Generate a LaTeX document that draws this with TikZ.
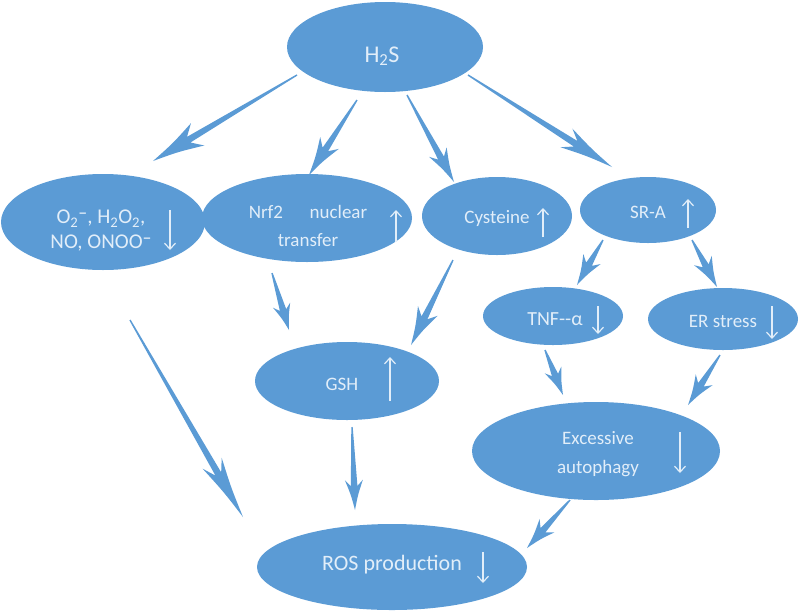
\documentclass[tikz,border=0pt]{standalone}
\usepackage{fontspec}
\setmainfont{Carlito}
\usetikzlibrary{shapes.geometric,calc,arrows.meta}
\definecolor{blu}{HTML}{5B9BD5}
\definecolor{txt}{HTML}{E2EEF9}
\newcommand\tarr[4]{%
 \fill[blu] let \p1=(#1), \p2=(#2), \n1={atan2(\y2-\y1,\x2-\x1)} in
  ($(\p1)+(\n1+90:0.7pt)$) --
  ($(\p2)+(\n1+180:0.8*#3)+(\n1+90:3.3pt)$) --
  ($(\p2)+(\n1+180:#3)+(\n1+90:#4)$) ..
   controls ($(\p2)+(\n1+180:0.5*#3)+(\n1+90:0.38*#4)$) ..
  (\p2) ..
   controls ($(\p2)+(\n1+180:0.5*#3)+(\n1-90:0.38*#4)$) ..
  ($(\p2)+(\n1+180:#3)+(\n1-90:#4)$) --
  ($(\p2)+(\n1+180:0.8*#3)+(\n1-90:3.3pt)$) --
  ($(\p1)+(\n1-90:0.7pt)$) -- cycle;}
\newcommand\minu{\raisebox{0.42ex}{\scalebox{0.85}[1]{–}}}
\tikzset{
 ell/.style={ellipse, fill=blu, draw=none, inner sep=0pt},
 lab/.style={text=txt, align=center, inner sep=0pt},
 fs/.style args={#1/#2}{font=\fontsize{#1}{#2}\selectfont},
 updn/.style={draw=txt, line width=1.2pt, -{Straight Barb[length=6pt,width=11pt]}}
}
\begin{document}
\begin{tikzpicture}[x=1pt,y=-1pt]
\useasboundingbox (0,0) rectangle (800,614);
% ellipses
\node[ell, minimum width=196pt, minimum height=90pt] (h2s) at (385,47) {};
\node[ell, minimum width=204pt, minimum height=96pt] (o2) at (103,222) {};
\node[ell, minimum width=210pt, minimum height=88pt] (nrf) at (307,218) {};
\node[ell, minimum width=150pt, minimum height=78pt] (cys) at (497,216) {};
\node[ell, minimum width=136pt, minimum height=66pt] (sra) at (648,210) {};
\node[ell, minimum width=140pt, minimum height=58pt] (tnf) at (553,316) {};
\node[ell, minimum width=150pt, minimum height=62pt] (er) at (723,319) {};
\node[ell, minimum width=184pt, minimum height=78pt] (gsh) at (347,381) {};
\node[ell, minimum width=248pt, minimum height=98pt] (exc) at (596,451) {};
\node[ell, minimum width=270pt, minimum height=86pt] (ros) at (392,567) {};
% labels
\node[lab, fs=24/28, anchor=base] (h2sT) at (382,62) {H\textsubscript{2}S};
\node[lab, fs=21/25] (o2T) at (101,231) {O\textsubscript{2}\minu, H\textsubscript{2}O\textsubscript{2},\\NO, ONOO\minu};
\node[lab, fs=19/28] (nrfT) at (308,226) {Nrf2\hspace{1.4em}nuclear\\transfer};
\node[lab, fs=19/23, anchor=base] (cysT) at (497,223) {Cysteine};
\node[lab, fs=19/23, anchor=base] (sraT) at (648,218) {SR-A};
\node[lab, fs=20/24, anchor=base] (tnfT) at (555,325) {TNF-{}-α};
\node[lab, fs=19/23, anchor=base] (erT) at (723,327) {ER stress};
\node[lab, fs=19/23, anchor=base] (gshT) at (342,390) {GSH};
\node[lab, fs=19/29] (excT) at (598,454) {Excessive\\autophagy};
\node[lab, fs=22/26, anchor=base] (rosT) at (392,570) {ROS production};
% up / down marks
\draw[updn] (170,210) -- (170,250);
\draw[updn] (396,242) -- (396,210);
\draw[updn] (543,237) -- (543,208);
\draw[updn] (688,228) -- (688,199);
\draw[updn] (598,306) -- (598,334);
\draw[updn] (772,306) -- (772,339);
\draw[updn] (390,401) -- (390,357);
\draw[updn] (680,432) -- (680,473);
\draw[updn] (483,552) -- (483,583);
% connector end points
\coordinate (a1s) at (297,75);  \coordinate (a1e) at (153,161);
\coordinate (a2s) at (357,100); \coordinate (a2e) at (309,175);
\coordinate (a3s) at (407,95);  \coordinate (a3e) at (454,182);
\coordinate (a4s) at (468,75);  \coordinate (a4e) at (612,167);
\coordinate (a5s) at (130,320); \coordinate (a5e) at (243,517);
\coordinate (a6s) at (272,273); \coordinate (a6e) at (289,330);
\coordinate (a7s) at (453,260); \coordinate (a7e) at (411,345);
\coordinate (a8s) at (603,240); \coordinate (a8e) at (577,285);
\coordinate (a9s) at (692,240); \coordinate (a9e) at (717,287);
\coordinate (a10s) at (545,350); \coordinate (a10e) at (563,395);
\coordinate (a11s) at (720,355); \coordinate (a11e) at (688,405);
\coordinate (a12s) at (352,427); \coordinate (a12e) at (355,510);
\coordinate (a13s) at (570,500); \coordinate (a13e) at (527,548);
\tarr{a1s}{a1e}{52pt}{13pt}
\tarr{a2s}{a2e}{38pt}{11pt}
\tarr{a3s}{a3e}{34pt}{10pt}
\tarr{a4s}{a4e}{54pt}{11pt}
\tarr{a5s}{a5e}{62pt}{11pt}
\tarr{a6s}{a6e}{26pt}{9pt}
\tarr{a7s}{a7e}{38pt}{11pt}
\tarr{a8s}{a8e}{30pt}{10pt}
\tarr{a9s}{a9e}{30pt}{10pt}
\tarr{a10s}{a10e}{27pt}{9pt}
\tarr{a11s}{a11e}{30pt}{10pt}
\tarr{a12s}{a12e}{30pt}{9pt}
\tarr{a13s}{a13e}{30pt}{10pt}
\end{tikzpicture}
\end{document}
